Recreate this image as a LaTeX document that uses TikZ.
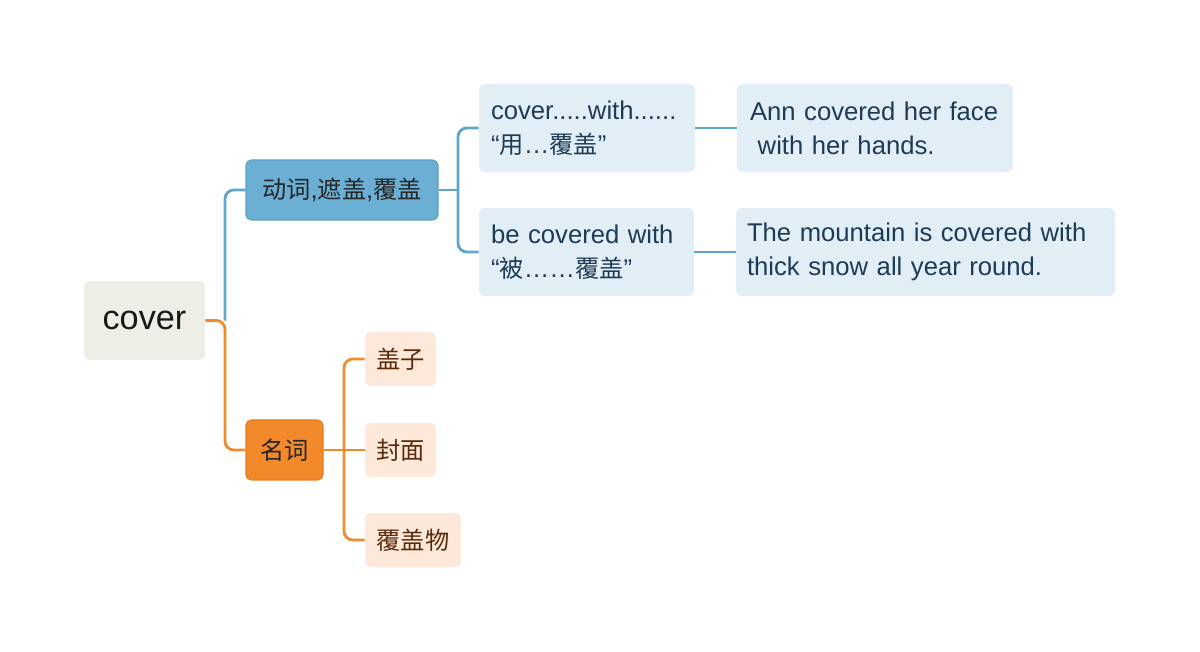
\documentclass[tikz,border=0pt]{standalone}
\usepackage{fontspec}
\setmainfont{Liberation Sans}
\newfontfamily\cjk[Scale=0.945]{Noto Sans CJK SC}
\usetikzlibrary{positioning}

\definecolor{rootfill}{HTML}{EEEEE6}
\definecolor{verbfill}{HTML}{6BB0D4}
\definecolor{verbdraw}{HTML}{5A9EC2}
\definecolor{nounfill}{HTML}{F28A2C}
\definecolor{noundraw}{HTML}{E27A1E}
\definecolor{leaffill}{HTML}{E1EEF6}
\definecolor{leaftext}{HTML}{1D3B55}
\definecolor{peachfill}{HTML}{FDE8D9}
\definecolor{peachtext}{HTML}{5A2A0C}
\definecolor{blueline}{HTML}{5FA6CB}
\definecolor{orangeline}{HTML}{F08A2E}

\begin{document}
\begin{tikzpicture}[x=0.02cm,y=-0.02cm,
    box/.style={rounded corners=3pt,inner sep=0pt,font=\fontsize{14.6}{19.3}\selectfont},
    rootbox/.style={box,fill=rootfill,minimum width=2.42cm,minimum height=1.58cm,font=\fontsize{19.5}{22}\selectfont,text=black!90},
    verbbox/.style={box,fill=verbfill,draw=verbdraw,line width=0.6pt,minimum width=3.84cm,minimum height=1.2cm,text=black!85},
    nounbox/.style={box,fill=nounfill,draw=noundraw,line width=0.6pt,minimum width=1.54cm,minimum height=1.2cm,text=black!85},
    leafbox/.style={box,fill=leaffill,text=leaftext,minimum height=1.76cm,align=left},
    peachbox/.style={box,fill=peachfill,text=peachtext,minimum height=1.08cm},
    bline/.style={draw=blueline,line width=1.6pt,rounded corners=5pt},
    oline/.style={draw=orangeline,line width=1.6pt,rounded corners=5pt}]
\useasboundingbox (0,0) rectangle (1200,652);

% root and first level
\node[rootbox] (root) at (144.5,320.5) {cover};
\node[verbbox] (verb) at (342,190) {{\cjk 动词},{\cjk 遮盖},{\cjk 覆盖}};
\node[nounbox] (noun) at (284.5,450) {\cjk 名词};

% phrases and examples
\node[leafbox,inner xsep=0.24cm,text width=3.84cm] (phrase1) at (587,128) {cover.....with......\\“{\cjk 用}…{\cjk 覆盖}”};
\node[leafbox,inner xsep=0.24cm,text width=3.82cm] (phrase2) at (586.5,252) {be covered with\\“{\cjk 被}……{\cjk 覆盖}”};
\node[leafbox,inner xsep=0.26cm,text width=5.0cm] (ex1) at (875,128) {Ann covered her face\\\hspace*{0.3em}with her hands.};
\node[leafbox,inner xsep=0.22cm,text width=7.14cm] (ex2) at (925.5,252) {The mountain is covered with\\thick snow all year round.};

% nouns
\node[peachbox,minimum width=1.42cm] (lid) at (400.5,359) {\cjk 盖子};
\node[peachbox,minimum width=1.42cm] (coverpage) at (400.5,450) {\cjk 封面};
\node[peachbox,minimum width=1.92cm] (covering) at (413,540) {\cjk 覆盖物};

% connectors
\coordinate (jroot) at (225,320.5);
\coordinate (jverb) at (458,190);
\coordinate (jnoun) at (344,450);
\draw[oline] (root.east) -- (jroot) |- (noun.west);
\draw[bline] (jroot) |- (verb.west);
\draw[bline] (verb.east) -- (jverb);
\draw[bline] (jverb) |- (phrase1.west);
\draw[bline] (jverb) |- (phrase2.west);
\draw[bline] (phrase1.east) -- (ex1.west);
\draw[bline] (phrase2.east) -- (ex2.west);
\draw[oline] (noun.east) -- (coverpage.west);
\draw[oline] (jnoun) |- (lid.west);
\draw[oline] (jnoun) |- (covering.west);
\end{tikzpicture}
\end{document}
